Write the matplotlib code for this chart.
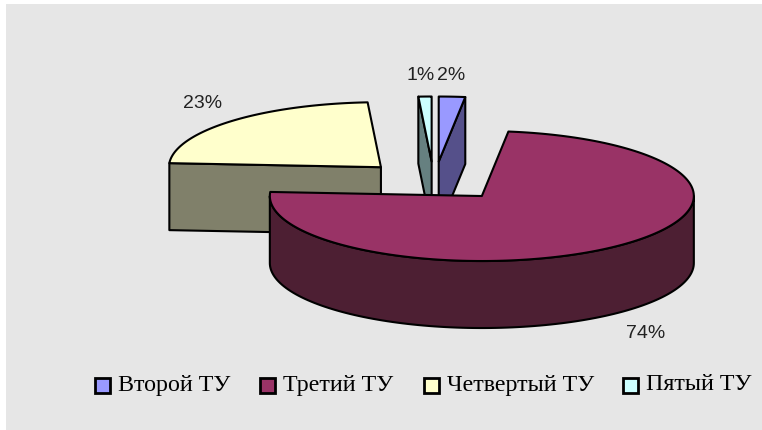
import numpy as np
import matplotlib
matplotlib.use("Agg")
import matplotlib.pyplot as plt
from matplotlib.patches import Polygon, Rectangle

categories = ["Второй ТУ", "Третий ТУ", "Четвертый ТУ", "Пятый ТУ"]
values = [2, 74, 23, 1]

colors = ["#9999ff", "#993366", "#ffffcc", "#ccffff"]
side_colors = ["#55508a", "#4d1f33", "#80806a", "#668080"]

# pie geometry, in pixels of the picture
cx, cy = 434, 181
rx, ry = 212, 65
depth = 67
explode_x, explode_y = 0.354, 0.30
# where the percent labels sit
label_pos = [(451, 75), (646, 334), (203, 103), (421, 75)]
legend_x = [95, 260, 424, 623]

fig = plt.figure(figsize=(7.62, 4.30), dpi=100, facecolor="white")
ax = fig.add_axes([0, 0, 1, 1])
ax.set_xlim(0, 762)
ax.set_ylim(430, 0)
ax.axis("off")
ax.add_patch(Rectangle((6, 4), 756, 426, facecolor="#e6e6e6", edgecolor="none"))

total = sum(values)
edges = np.cumsum([0] + values) / total * 360


def point(angle, center):
    a = np.radians(angle)
    return center[0] + rx * np.sin(a), center[1] - ry * np.cos(a)


def draw_slice(i, zorder):
    a, b = edges[i], edges[i + 1]
    mid = np.radians((a + b) / 2)
    apex = (cx + explode_x * rx * np.sin(mid), cy - explode_y * ry * np.cos(mid))
    kw = dict(edgecolor="black", linewidth=1.5, joinstyle="round", zorder=zorder)

    # cut faces turned towards the viewer
    for ang, visible in [(a, np.sin(np.radians(a)) < -1e-6), (b, np.sin(np.radians(b)) > 1e-6)]:
        if visible:
            p = point(ang, apex)
            face = [apex, p, (p[0], p[1] + depth), (apex[0], apex[1] + depth)]
            ax.add_patch(Polygon(face, facecolor=side_colors[i], **kw))

    # outer wall, only the front half of the ellipse
    lo, hi = max(a, 90), min(b, 270)
    if lo < hi:
        t = np.linspace(lo, hi, 120)
        top = [point(v, apex) for v in t]
        bottom = [(x, y + depth) for x, y in top][::-1]
        ax.add_patch(Polygon(top + bottom, facecolor=side_colors[i], **kw))

    # top of the slice
    t = np.linspace(a, b, 200)
    ax.add_patch(Polygon([apex] + [point(v, apex) for v in t], facecolor=colors[i], **kw))


for z, i in enumerate([0, 3, 2, 1]):
    draw_slice(i, z + 2)

for v, (x, y) in zip(values, label_pos):
    ax.text(x, y, f"{v}%", ha="center", va="center", fontsize=14,
            family="Liberation Sans", color="#222222", zorder=10)

for x, name, c in zip(legend_x, categories, colors):
    ax.add_patch(Rectangle((x, 378), 15, 15, facecolor=c, edgecolor="black", linewidth=2, zorder=10))
    ax.text(x + 23, 385, name, ha="left", va="center", fontsize=17.3,
            family="Liberation Serif", color="black", zorder=10)

fig.savefig("out.png", dpi=100)
